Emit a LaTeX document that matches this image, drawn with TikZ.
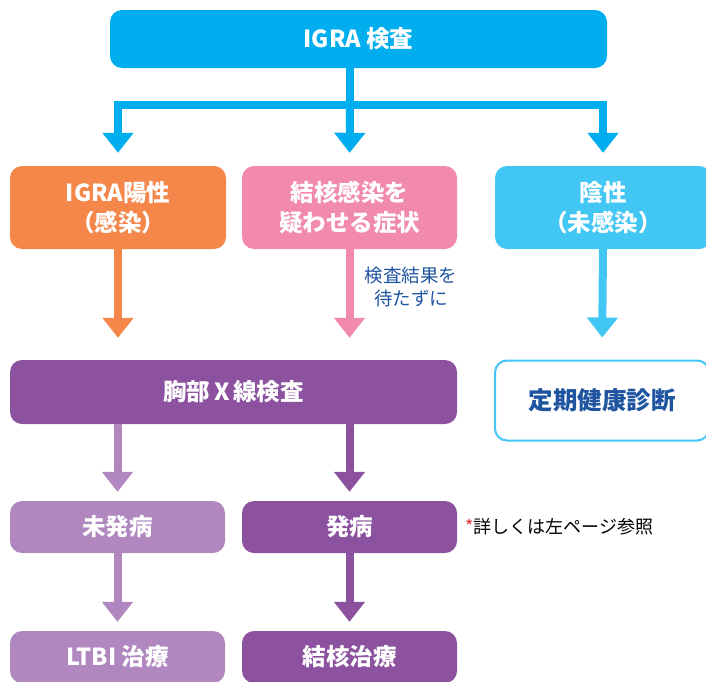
\documentclass[tikz,border=0pt]{standalone}
\usepackage{fontspec}
\setmainfont{Noto Sans CJK JP}
\usetikzlibrary{arrows.meta}
\definecolor{cTop}{HTML}{00AEEF}
\definecolor{cOrange}{HTML}{F5874A}
\definecolor{cPink}{HTML}{F28AAB}
\definecolor{cSky}{HTML}{42C6F3}
\definecolor{cPurple}{HTML}{8C52A0}
\definecolor{cLilac}{HTML}{B088BF}
\definecolor{cNavy}{HTML}{1F55A0}
\definecolor{cRed}{HTML}{E8303A}
\tikzset{
  box/.style={rounded corners=12pt, inner sep=0pt, align=center, text=white,
    font=\bfseries\fontsize{23.5}{30}\selectfont},
  conn/.style={line width=8pt, -{Triangle[width=30pt,length=20pt]}},
  plain/.style={line width=8pt},
}
\begin{document}
\begin{tikzpicture}[x=1pt,y=-1pt]
\useasboundingbox (0,0) rectangle (706,681);
\clip (0,0) rectangle (706,681);
% boxes
\node[box, fill=cTop, minimum width=497pt, minimum height=58pt] (top) at (358.5,39) {IGRA 検査};
\node[box, fill=cOrange, minimum width=216pt, minimum height=83pt] (pos) at (118,207.5) {IGRA陽性\\（感染）};
\node[box, fill=cPink, minimum width=215pt, minimum height=83pt] (sym) at (349.5,207.5) {結核感染を\\疑わせる症状};
\node[box, fill=cSky, minimum width=216pt, minimum height=83pt] (neg) at (603,207.5) {陰性\\（未感染）};
\node[box, fill=cPurple, minimum width=447pt, minimum height=64pt] (xray) at (233.5,392) {胸部\,X\,線検査};
\node[box, fill=white, draw=cSky, line width=2pt, text=cNavy, minimum width=214pt, minimum height=80pt,
  font=\bfseries\fontsize{24.5}{28}\selectfont] (teiki) at (602,400.5) {定期健康診断};
\node[box, fill=cLilac, minimum width=215pt, minimum height=52pt] (mi) at (117.5,527) {未発病};
\node[box, fill=cPurple, minimum width=215pt, minimum height=52pt] (hatsu) at (349.5,527) {発病};
\node[box, fill=cLilac, minimum width=215pt, minimum height=52pt] (ltbi) at (117.5,657) {LTBI 治療};
\node[box, fill=cPurple, minimum width=215pt, minimum height=52pt] (kekkaku) at (349.5,657) {結核治療};
% labels
\node[align=center, text=cNavy, font=\fontsize{18.5}{23}\selectfont, inner sep=0pt] (wait) at (411,287) {検査結果を\\待たずに};
\node[anchor=west, inner sep=0pt, font=\fontsize{18}{22}\selectfont] (note) at (465,527) {\textcolor{cRed}{*}詳しくは左ページ参照};
% connectors from top
\coordinate (bar) at (350,105);
\draw[plain, cTop] (top.south -| bar) -- (bar);
\draw[conn, cTop, line join=miter, shorten >=13pt] (bar) -| (pos.north);
\draw[conn, cTop, line join=miter, shorten >=13pt] (bar) -| (neg.north);
\draw[conn, cTop, shorten >=13pt] (bar) -- (sym.north);
% to second level
\draw[conn, cOrange, shorten >=22pt] (pos.south) -- (pos.south |- xray.north);
\draw[conn, cPink, shorten >=22pt] (sym.south) -- (sym.south |- xray.north);
\draw[conn, cSky, shorten >=22pt] (neg.south) -- (teiki.north);
% from xray
\draw[conn, cLilac, shorten >=9pt] (xray.south -| mi) -- (mi.north);
\draw[conn, cPurple, shorten >=9pt] (xray.south -| hatsu) -- (hatsu.north);
\draw[conn, cLilac, shorten >=9pt] (mi.south) -- (ltbi.north);
\draw[conn, cPurple, shorten >=9pt] (hatsu.south) -- (kekkaku.north);
\end{tikzpicture}
\end{document}
